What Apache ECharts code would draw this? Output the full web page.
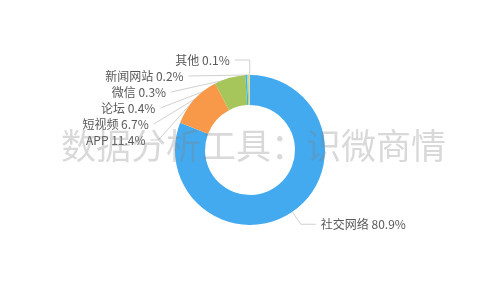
<!DOCTYPE html>
<html>
<head>
<meta charset="utf-8">
<script src="https://cdn.jsdelivr.net/npm/echarts@6/dist/echarts.min.js"></script>
<style>html,body{margin:0;padding:0;background:#fff;}#c{width:500px;height:300px;}</style>
</head>
<body>
<div id="c"></div>
<script>
var categories = ['社交网络', 'APP', '短视频', '论坛', '微信', '新闻网站', '其他'];
var values = [80.9, 11.4, 6.7, 0.4, 0.3, 0.2, 0.1];
var colors = ['#44aaef', '#f8994a', '#a6c55a', '#3fb8c8', '#8fd3e8', '#f0c43c', '#f6d34a'];
var watermark = '数据分析工具：识微商情';

var chart = echarts.init(document.getElementById('c'));
chart.setOption({
  animation: false,
  color: colors,
  graphic: [{
    type: 'text',
    left: 61,
    top: 128,
    z: 100,
    style: {
      text: watermark,
      fontSize: 35,
      fontFamily: 'Noto Sans CJK SC',
      fill: 'rgba(128,128,128,0.3)'
    }
  }],
  series: [{
    type: 'pie',
    center: ['50%', '50%'],
    radius: ['30%', '50%'],
    startAngle: 90,
    clockwise: true,
    label: {
      formatter: '{b} {c}%',
      color: '#595959',
      fontSize: 12,
      lineHeight: 14,
      fontFamily: 'Noto Sans CJK SC'
    },
    labelLine: { length: 15, length2: 15, lineStyle: { color: '#d0d0d0' } },
    data: categories.map(function (n, i) { return { name: n, value: values[i] }; })
  }]
});
</script>
</body>
</html>
